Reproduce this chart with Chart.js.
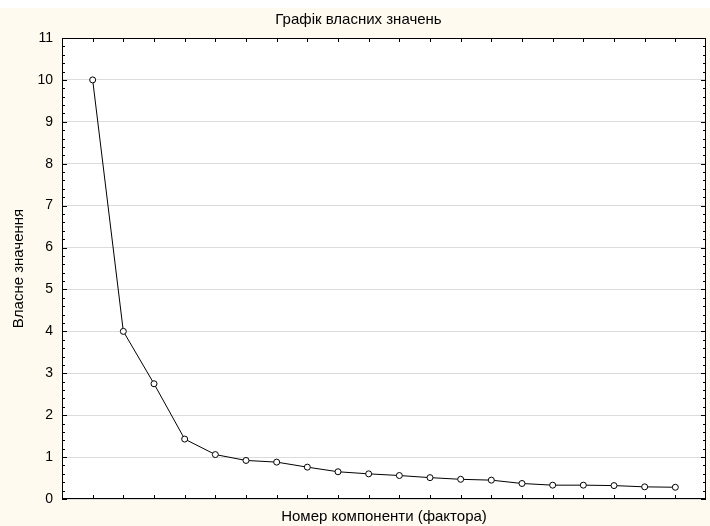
<!DOCTYPE html>
<html>
<head>
<meta charset="utf-8">
<script src="https://cdn.jsdelivr.net/npm/chart.js@4/dist/chart.umd.min.js"></script>
<style>
  html, body { margin: 0; padding: 0; background: #fff; }
  canvas { display: block; }
</style>
</head>
<body>
<canvas id="myChart" width="710" height="526"></canvas>
<script>
// component numbers and eigenvalues
const components = [1, 2, 3, 4, 5, 6, 7, 8, 9, 10, 11, 12, 13, 14, 15, 16, 17, 18, 19, 20]
const eigenvalues = [10.0, 4.0, 2.75, 1.43, 1.06, 0.92, 0.88, 0.76, 0.65, 0.60,
                     0.56, 0.51, 0.47, 0.45, 0.37, 0.33, 0.33, 0.32, 0.29, 0.28]
const yTicks = [0, 1, 2, 3, 4, 5, 6, 7, 8, 9, 10, 11]

const points = components.map((c, i) => ({ x: c, y: eigenvalues[i] }))

const font = '"Liberation Sans", Arial, sans-serif'

// cream outer background, white plot area
const backdrop = {
  id: 'backdrop',
  beforeDraw(chart) {
    const { ctx, chartArea: a } = chart
    ctx.save()
    ctx.fillStyle = '#ffffff'
    ctx.fillRect(0, 0, chart.width, chart.height)
    ctx.fillStyle = '#fffaf0'
    ctx.fillRect(0, 8, chart.width, chart.height - 8)
    ctx.fillStyle = '#ffffff'
    ctx.fillRect(a.left, a.top, a.right - a.left, a.bottom - a.top)
    ctx.restore()
  }
}

// frame and inward tick marks on all four sides
const frameTicks = {
  id: 'frameTicks',
  beforeDatasetsDraw(chart) {
    const { ctx, chartArea: a } = chart
    const xs = chart.scales.x, ys = chart.scales.y
    ctx.save()
    ctx.strokeStyle = '#000'
    ctx.lineWidth = 1
    ctx.beginPath()
    for (let i = 0; i <= 55; i++) {
      const y = Math.round(ys.getPixelForValue(i / 5)) + 0.5
      const len = i % 5 === 0 ? 5 : 3
      ctx.moveTo(a.left, y); ctx.lineTo(a.left + len, y)
      ctx.moveTo(a.right, y); ctx.lineTo(a.right - len, y)
    }
    components.forEach(c => {
      const x = Math.round(xs.getPixelForValue(c)) + 0.5
      ctx.moveTo(x, a.top); ctx.lineTo(x, a.top + 4)
      ctx.moveTo(x, a.bottom); ctx.lineTo(x, a.bottom - 4)
    })
    ctx.stroke()
    ctx.strokeRect(Math.round(a.left) + 0.5, Math.round(a.top) + 0.5,
      Math.round(a.right - a.left) - 1, Math.round(a.bottom - a.top) - 1)
    ctx.restore()
  }
}

const ctx = document.getElementById('myChart').getContext('2d')

const myChart = new Chart(ctx, {
  type: 'line',
  data: {
    datasets: [{
      data: points,
      borderColor: '#000',
      borderWidth: 1,
      tension: 0,
      pointRadius: 3,
      pointHoverRadius: 3,
      pointBorderWidth: 1,
      pointBorderColor: '#000',
      pointBackgroundColor: '#fff'
    }]
  },
  options: {
    responsive: false,
    animation: false,
    layout: { padding: { left: 10, right: 3, top: 0, bottom: 0 } },
    plugins: {
      legend: { display: false },
      tooltip: { enabled: false },
      title: {
        display: true,
        text: 'Графік власних значень',
        color: '#000',
        font: { family: font, size: 15, weight: 'normal', lineHeight: 1.2 },
        padding: { top: 11, bottom: 9 }
      }
    },
    scales: {
      x: {
        type: 'linear',
        min: 0,
        max: 21,
        ticks: { display: false },
        grid: { display: false },
        border: { display: false },
        title: {
          display: true,
          text: 'Номер компоненти (фактора)',
          color: '#000',
          font: { family: font, size: 15, lineHeight: 1.2 },
          padding: { top: 0, bottom: 0 }
        },
        afterFit(scale) { scale.height = 27 }
      },
      y: {
        min: 0,
        max: 11,
        afterBuildTicks(scale) { scale.ticks = yTicks.map(v => ({ value: v })) },
        ticks: {
          color: '#000',
          font: { family: font, size: 14 },
          padding: 9
        },
        grid: { color: '#dcdcdc', lineWidth: 1, drawTicks: false },
        border: { display: false },
        title: {
          display: true,
          text: 'Власне значення',
          color: '#000',
          font: { family: font, size: 15, lineHeight: 1.2 },
          padding: { top: 0, bottom: 0 }
        },
        afterFit(scale) { scale.width = 52 }
      }
    }
  },
  plugins: [backdrop, frameTicks]
})
</script>
</body>
</html>
